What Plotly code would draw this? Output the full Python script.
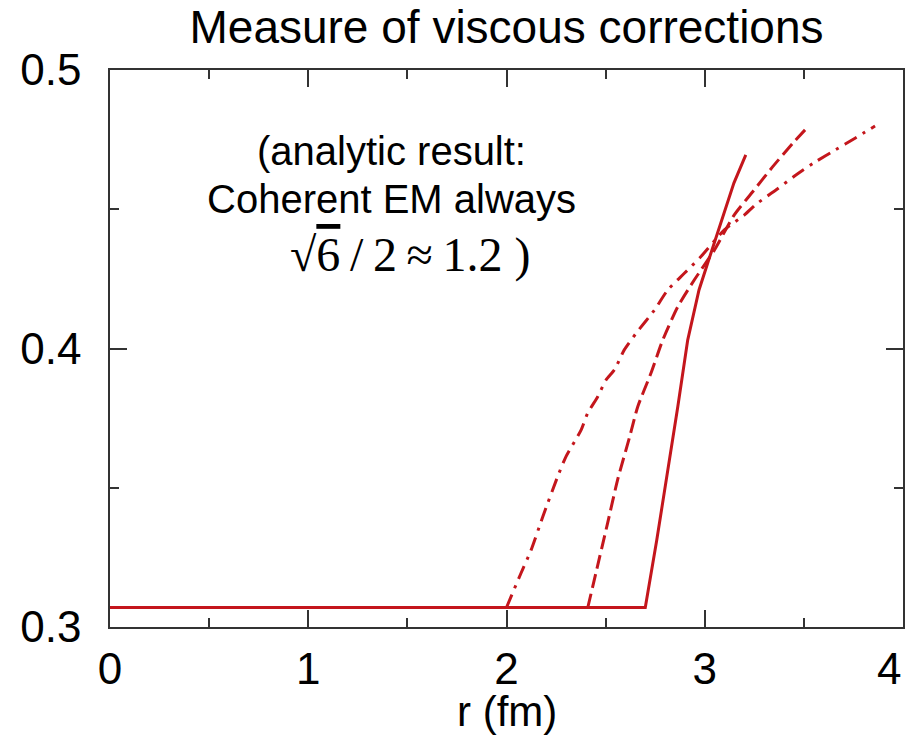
import plotly.graph_objects as go

# ---- data ----
solid_r = [0.0, 2.70, 2.758, 2.813, 2.864, 2.914, 2.971, 3.015, 3.082, 3.147, 3.207]
solid_v = [0.307, 0.307, 0.3312, 0.3553, 0.3791, 0.4030, 0.4210, 0.4307, 0.4451, 0.4594, 0.4695]

dashed_r = [2.41, 2.451, 2.510, 2.561, 2.620, 2.662, 2.729, 2.788, 2.864, 2.947, 3.049,
            3.149, 3.242, 3.343, 3.444, 3.506]
dashed_v = [0.307, 0.3194, 0.3373, 0.3530, 0.3680, 0.3791, 0.3912, 0.4030, 0.4150, 0.4246, 0.4354,
            0.4480, 0.4563, 0.4653, 0.4737, 0.4785]

dashdot_r = [2.00, 2.023, 2.073, 2.124, 2.183, 2.258, 2.300, 2.376, 2.409, 2.460, 2.502, 2.544,
             2.594, 2.653, 2.746, 2.813, 2.897, 2.981, 3.099, 3.199, 3.259, 3.359, 3.460, 3.560,
             3.659, 3.758, 3.859]
dashdot_v = [0.307, 0.3109, 0.3193, 0.3276, 0.3396, 0.3540, 0.3612, 0.3707, 0.3767, 0.3827, 0.3887,
             0.3923, 0.3995, 0.4054, 0.4138, 0.4210, 0.4270, 0.4330, 0.4426, 0.4479, 0.4518, 0.4569,
             0.4623, 0.4671, 0.4713, 0.4755, 0.4799]

x_tickvals = [0, 1, 2, 3, 4]
x_ticktext = ["0", "1", "2", "3", ""]
x_edge_tickvals = [4]
x_edge_ticktext = ["4"]
y_tickvals = [0.3, 0.4, 0.5]
y_ticktext = ["0.3", "0.4", "0.5"]

title_text = "Measure of viscous corrections"
xaxis_title = "r (fm)"
note_line1 = "(analytic result:"
note_line2 = "Coherent EM always"
note_line3 = "√<span style='text-decoration:overline'>6</span>\u2009/\u20092\u2009≈\u20091.2 )"

RED = "#c4161c"
AX = "#333333"
CLEAR = "rgba(0,0,0,0)"
SANS = "Liberation Sans, Arial, sans-serif"
SERIF = "Liberation Serif, Times New Roman, serif"
TICKFONT = dict(family=SANS, size=44, color="black")

fig = go.Figure()
fig.add_trace(go.Scatter(x=solid_r, y=solid_v, mode="lines",
                         line=dict(color=RED, width=3), showlegend=False))
fig.add_trace(go.Scatter(x=dashed_r, y=dashed_v, mode="lines",
                         line=dict(color=RED, width=3, dash="14px,6px",
                                   shape="spline", smoothing=0.6), showlegend=False))
fig.add_trace(go.Scatter(x=dashdot_r, y=dashdot_v, mode="lines",
                         line=dict(color=RED, width=3, dash="14px,7px,3px,7px",
                                   shape="spline", smoothing=0.6), showlegend=False))
# empty helper trace so the overlaid x-axis (edge label "4") is drawn
fig.add_trace(go.Scatter(x=[], y=[], xaxis="x2", yaxis="y", mode="lines",
                         showlegend=False, hoverinfo="skip"))

axis_common = dict(showline=True, linecolor=AX, linewidth=1.5, mirror="ticks",
                   ticks="inside", ticklen=17, tickwidth=1.5, tickcolor=AX,
                   showgrid=False, zeroline=False, ticklabeloverflow="allow",
                   automargin=False, tickfont=TICKFONT)

fig.update_layout(
    xaxis=dict(range=[0, 4], tickvals=x_tickvals, ticktext=x_ticktext,
               minor=dict(ticks="inside", ticklen=9, tickwidth=1.5, tickcolor=AX, dtick=0.5,
                          showgrid=False),
               ticklabelstandoff=2, **axis_common),
    xaxis2=dict(range=[0, 4], overlaying="x", anchor="y", side="bottom",
                tickvals=x_edge_tickvals, ticktext=x_edge_ticktext,
                showline=True, linecolor=CLEAR, linewidth=1.5,
                ticks="inside", ticklen=17, tickwidth=1.5, tickcolor=CLEAR,
                showgrid=False, zeroline=False,
                ticklabelposition="outside left", ticklabelstandoff=2,
                ticklabeloverflow="allow", automargin=False, tickfont=TICKFONT),
    yaxis=dict(range=[0.3, 0.5], tickvals=y_tickvals, ticktext=y_ticktext,
               minor=dict(ticks="inside", ticklen=9, tickwidth=1.5, tickcolor=AX, dtick=0.05,
                          showgrid=False),
               ticklabelstandoff=18, **axis_common),
)

fig.update_layout(
    width=908, height=741,
    margin=dict(l=110, r=5, t=70, b=114),
    paper_bgcolor="white", plot_bgcolor="white",
    title=dict(text=title_text, x=0.5, xref="paper", xanchor="center",
               y=1 - 27 / 741, yref="container", yanchor="middle",
               font=dict(family=SANS, size=46, color="black")),
    annotations=[
        dict(text=xaxis_title, xref="paper", yref="paper", x=0.5, y=-0.152,
             xanchor="center", yanchor="middle", showarrow=False,
             font=dict(family=SANS, size=42, color="black")),
        dict(text=note_line1, xref="paper", yref="paper", x=0.3556, y=0.8546,
             xanchor="center", yanchor="middle", showarrow=False,
             font=dict(family=SANS, size=40, color="black")),
        dict(text=note_line2, xref="paper", yref="paper", x=0.3544, y=0.7684,
             xanchor="center", yanchor="middle", showarrow=False,
             font=dict(family=SANS, size=40, color="black")),
        dict(text=note_line3, xref="paper", yref="paper", x=0.3783, y=0.6679,
             xanchor="center", yanchor="middle", showarrow=False,
             font=dict(family=SERIF, size=48, color="black")),
    ],
)

fig.write_html("out.html")
